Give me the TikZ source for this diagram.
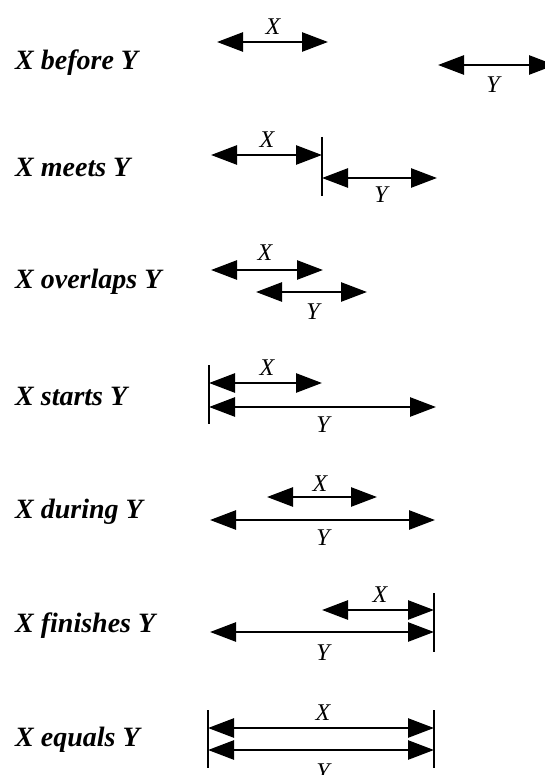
\documentclass[tikz,border=0pt]{standalone}
\usepackage{fontspec}
\setmainfont{Liberation Serif}
\usetikzlibrary{arrows.meta}
\begin{document}
\begin{tikzpicture}[x=1pt,y=-1pt,
  iv/.style={line width=2.6pt,{Triangle[length=26pt,width=19pt]}-{Triangle[length=26pt,width=19pt]}},
  barline/.style={line width=2pt},
  rel/.style={anchor=base west,font=\fontsize{28}{32}\selectfont\bfseries\itshape,inner sep=0pt},
  lab/.style={font=\fontsize{24}{28}\selectfont\itshape,inner sep=0pt}]
\useasboundingbox (0,0) rectangle (545,775);
% row 1: before
\node[rel] (r1) at (15,70) {X before Y};
\coordinate (a1) at (217,42); \coordinate (b1) at (328,42);
\coordinate (c1) at (438,65); \coordinate (d1) at (555,65);
\draw[iv] (a1) -- (b1);
\draw[iv] (c1) -- (d1);
\node[lab] (x1) at (273,27) {X};
\node[lab] (y1) at (493,85) {Y};
% row 2: meets
\node[rel] (r2) at (15,177) {X meets Y};
\coordinate (a2) at (211,155); \coordinate (b2) at (322,155);
\coordinate (c2) at (322,178); \coordinate (d2) at (437,178);
\coordinate (t2) at (322,137); \coordinate (u2) at (322,196);
\draw[barline] (t2) -- (u2);
\draw[iv] (a2) -- (b2);
\draw[iv] (c2) -- (d2);
\node[lab] (x2) at (267,140) {X};
\node[lab] (y2) at (381,195) {Y};
% row 3: overlaps
\node[rel] (r3) at (15,288) {X overlaps Y};
\coordinate (a3) at (211,270); \coordinate (b3) at (323,270);
\coordinate (c3) at (256,292); \coordinate (d3) at (367,292);
\draw[iv] (a3) -- (b3);
\draw[iv] (c3) -- (d3);
\node[lab] (x3) at (265,253) {X};
\node[lab] (y3) at (313,312) {Y};
% row 4: starts
\node[rel] (r4) at (15,405) {X starts Y};
\coordinate (a4) at (209,383); \coordinate (b4) at (322,383);
\coordinate (c4) at (209,407); \coordinate (d4) at (436,407);
\coordinate (t4) at (209,365); \coordinate (u4) at (209,424);
\draw[barline] (t4) -- (u4);
\draw[iv] (a4) -- (b4);
\draw[iv] (c4) -- (d4);
\node[lab] (x4) at (267,368) {X};
\node[lab] (y4) at (323,425) {Y};
% row 5: during
\node[rel] (r5) at (15,518) {X during Y};
\coordinate (a5) at (267,497); \coordinate (b5) at (377,497);
\coordinate (c5) at (210,520); \coordinate (d5) at (435,520);
\draw[iv] (a5) -- (b5);
\draw[iv] (c5) -- (d5);
\node[lab] (x5) at (320,484) {X};
\node[lab] (y5) at (323,538) {Y};
% row 6: finishes
\node[rel] (r6) at (15,632) {X finishes Y};
\coordinate (a6) at (322,610); \coordinate (b6) at (434,610);
\coordinate (c6) at (210,632); \coordinate (d6) at (434,632);
\coordinate (t6) at (434,593); \coordinate (u6) at (434,652);
\draw[barline] (t6) -- (u6);
\draw[iv] (a6) -- (b6);
\draw[iv] (c6) -- (d6);
\node[lab] (x6) at (380,595) {X};
\node[lab] (y6) at (323,653) {Y};
% row 7: equals
\node[rel] (r7) at (15,746) {X equals Y};
\coordinate (a7) at (208,728); \coordinate (b7) at (434,728);
\coordinate (c7) at (208,750); \coordinate (d7) at (434,750);
\coordinate (t7) at (208,710); \coordinate (u7) at (208,768);
\coordinate (v7) at (434,710); \coordinate (w7) at (434,768);
\draw[barline] (t7) -- (u7);
\draw[barline] (v7) -- (w7);
\draw[iv] (a7) -- (b7);
\draw[iv] (c7) -- (d7);
\node[lab] (x7) at (323,713) {X};
\node[lab] (y7) at (323,772) {Y};
\end{tikzpicture}
\end{document}
